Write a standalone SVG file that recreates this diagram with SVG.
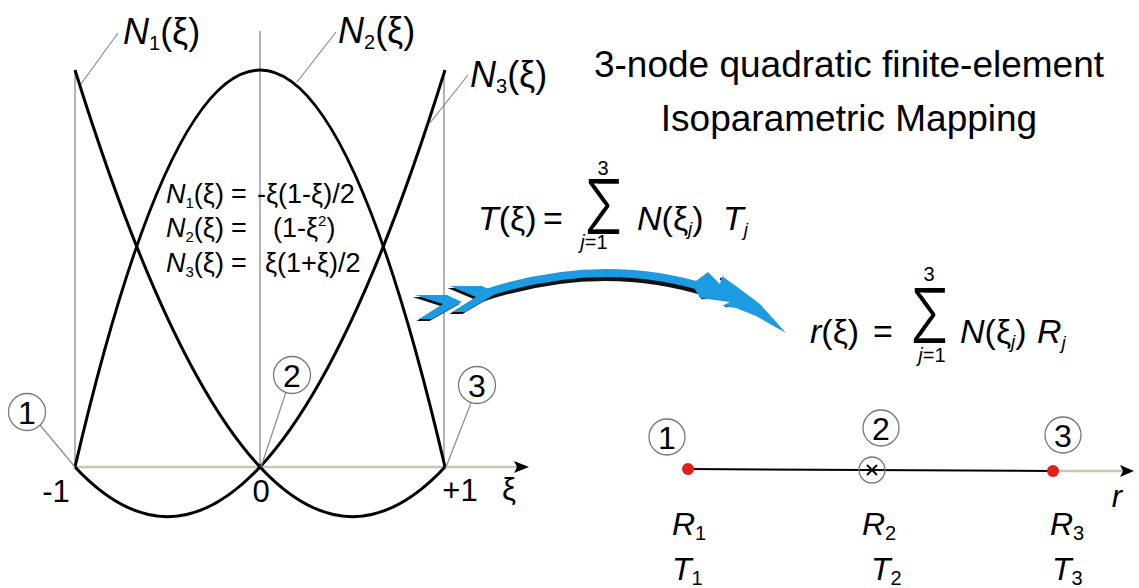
<svg xmlns="http://www.w3.org/2000/svg" width="1139" height="588" viewBox="0 0 1139 588">
<style>
text{font-family:"Liberation Sans",Arial,sans-serif;fill:#000}
.it{font-style:italic}
.grid{stroke:#9a9a9a;stroke-width:1.5;fill:none}
.axis{stroke:#c8c8b4;stroke-width:2.5;fill:none}
.curve{stroke:#000;stroke-width:3;fill:none}
.lead{stroke:#8a8a8a;stroke-width:1.2;fill:none}
.circ{stroke:#777;stroke-width:1.3;fill:#fff}
.num{font-size:32px;text-anchor:middle}
.lbl{font-size:36px}
.f{font-size:27px}
.eq{font-size:34px}
.sm{font-size:20px}
.sig{font-family:"Inter","Liberation Sans",sans-serif;font-weight:300;font-size:76px}
.rt{font-size:32px}
.dot{fill:#e0201b}
.blue{fill:#1d9be0}
.shadow{fill:#111}
.barb{stroke:#111;stroke-width:2.5;fill:none;stroke-linecap:round}
</style>
<rect width="1139" height="588" fill="#fff"/>

<g id="plot-grid">
<line class="grid" x1="75" y1="70" x2="75" y2="467"/>
<line class="grid" x1="260" y1="31" x2="260" y2="467"/>
<line class="grid" x1="444" y1="70" x2="444" y2="467"/>
</g>

<g id="xi-axis">
<line class="axis" x1="75" y1="467" x2="518" y2="467"/>
<path d="M514,461 L529,467 L514,473 L517,467 Z" fill="#000"/>
<text x="56" y="502" style="font-size:31px" text-anchor="middle">-1</text>
<text x="261" y="502" style="font-size:31px" text-anchor="middle">0</text>
<text x="460" y="501" style="font-size:31px" text-anchor="middle">+1</text>
<text x="509" y="500" style="font-size:31px" text-anchor="middle">ξ</text>
</g>

<g id="shape-functions">
<path class="curve" d="M75,70 Q260,665.5 445,467"/>
<path class="curve" d="M75,467 Q260,665.5 445,70"/>
<path class="curve" d="M75,467 Q260,-327 445,467"/>
</g>

<g id="label-N1">
<line class="lead" x1="81" y1="84" x2="118" y2="33"/>
<text class="lbl" x="123" y="44"><tspan class="it">N</tspan><tspan font-size="20" dy="6">1</tspan><tspan dy="-6">(ξ)</tspan></text>
</g>
<g id="label-N2">
<line class="lead" x1="297" y1="82" x2="336" y2="32"/>
<text class="lbl" x="338" y="43"><tspan class="it">N</tspan><tspan font-size="20" dy="6">2</tspan><tspan dy="-6">(ξ)</tspan></text>
</g>
<g id="label-N3">
<line class="lead" x1="430" y1="123" x2="468" y2="75"/>
<text class="lbl" x="470" y="87"><tspan class="it">N</tspan><tspan font-size="20" dy="6">3</tspan><tspan dy="-6">(ξ)</tspan></text>
</g>

<g id="formulas-N">
<text class="f" x="166" y="203"><tspan class="it">N</tspan><tspan font-size="15" dy="5">1</tspan><tspan dy="-5">(ξ)</tspan><tspan x="231">=</tspan><tspan x="257">-ξ(1-ξ)/2</tspan></text>
<text class="f" x="166" y="237"><tspan class="it">N</tspan><tspan font-size="15" dy="5">2</tspan><tspan dy="-5">(ξ)</tspan><tspan x="231">=</tspan><tspan x="273">(1-ξ</tspan><tspan font-size="15" dy="-11">2</tspan><tspan dy="11">)</tspan></text>
<text class="f" x="166" y="272"><tspan class="it">N</tspan><tspan font-size="15" dy="5">3</tspan><tspan dy="-5">(ξ)</tspan><tspan x="231">=</tspan><tspan x="265">ξ(1+ξ)/2</tspan></text>
</g>

<g id="node-1">
<line class="lead" x1="40" y1="425" x2="75" y2="467"/>
<circle class="circ" cx="27" cy="412" r="18.5"/>
<text class="num" x="27" y="423.5">1</text>
</g>
<g id="node-2">
<line class="lead" x1="286" y1="392" x2="261" y2="467"/>
<circle class="circ" cx="292" cy="375" r="18.5"/>
<text class="num" x="292" y="386.5">2</text>
</g>
<g id="node-3">
<line class="lead" x1="471" y1="403" x2="446" y2="467"/>
<circle class="circ" cx="477" cy="385" r="18.5"/>
<text class="num" x="477" y="396.5">3</text>
</g>

<g id="title">
<text x="849" y="77" style="font-size:37px" text-anchor="middle">3-node quadratic finite-element</text>
<text x="849" y="131" style="font-size:37px" text-anchor="middle">Isoparametric Mapping</text>
</g>

<g id="formula-T">
<text class="eq" x="478" y="230"><tspan class="it">T</tspan>(ξ)</text>
<text class="eq" x="543" y="230">=</text>
<text class="sig" x="584" y="234" textLength="39" lengthAdjust="spacingAndGlyphs">Σ</text>
<text class="sm" x="603" y="175" text-anchor="middle">3</text>
<text class="sm" x="594" y="249" text-anchor="middle"><tspan class="it">j</tspan>=1</text>
<text class="eq" x="637" y="230"><tspan class="it">N</tspan>(ξ<tspan class="it" font-size="19" dy="5">j</tspan><tspan dy="-5">)</tspan></text>
<text class="eq" x="723" y="230"><tspan class="it">T</tspan><tspan class="it" font-size="19" dy="6">j</tspan></text>
</g>

<g id="formula-r">
<text class="eq" x="810" y="343"><tspan class="it">r</tspan>(ξ)</text>
<text class="eq" x="873" y="343">=</text>
<text class="sig" x="910" y="343" textLength="39" lengthAdjust="spacingAndGlyphs">Σ</text>
<text class="sm" x="929" y="281" text-anchor="middle">3</text>
<text class="sm" x="932" y="362" text-anchor="middle"><tspan class="it">j</tspan>=1</text>
<text class="eq" x="960" y="343"><tspan class="it">N</tspan>(ξ<tspan class="it" font-size="19" dy="5">j</tspan><tspan dy="-5">)</tspan></text>
<text class="eq" x="1037" y="343"><tspan class="it">R</tspan><tspan class="it" font-size="19" dy="6">j</tspan></text>
</g>

<g id="connectors">
<g id="mapping-arrow">
<path d="M480,297 Q600,256 710,291" fill="none" stroke="#111" stroke-width="7" transform="translate(-1.5,2.5)"/>
<path d="M480,295 Q600,254 710,289" fill="none" stroke="#1d9be0" stroke-width="8"/>
<polygon class="shadow" points="415,295 447,295 462,302 432,319 419,319 443,304" transform="translate(-2.5,2)"/>
<polygon class="blue" points="415,295 447,295 462,302 432,319 419,319 443,304"/>
<polygon class="shadow" points="450,286 482,286 497,293 465,312 452,312 476,297" transform="translate(-2.5,2)"/>
<polygon class="blue" points="450,286 482,286 497,293 465,312 452,312 476,297"/>
<path class="barb" d="M707,275 L722,290 M721,279 L739,292 M702,298 L726,296 M726,306 L738,304"/>
<polygon class="blue" points="692,284 708,272 720,284 722,276 740,289 760,304 786,333 756,316 736,308 722,306 730,302 700,298"/>
</g>
<g id="r-axis">
<line x1="688" y1="469" x2="1053" y2="471" stroke="#000" stroke-width="2"/>
<line class="axis" x1="1053" y1="471" x2="1124" y2="471"/>
<path d="M1120,465 L1134,471 L1120,477 L1123,471 Z" fill="#000"/>
<text class="it" x="1117" y="507" style="font-size:31px" text-anchor="middle">r</text>
</g>
</g>

<g id="element-node-1">
<circle class="dot" cx="688" cy="469" r="6"/>
<circle class="circ" cx="667" cy="437" r="18"/>
<text class="num" x="667" y="448.5">1</text>
<text class="rt" x="672" y="535"><tspan class="it">R</tspan><tspan font-size="20" dy="5">1</tspan></text>
<text class="rt" x="672" y="580"><tspan class="it">T</tspan><tspan font-size="20" dy="5">1</tspan></text>
</g>
<g id="element-node-2">
<circle cx="872" cy="470" r="13" fill="none" stroke="#777" stroke-width="1.3"/>
<path d="M867,465 L877,475 M877,465 L867,475" stroke="#000" stroke-width="1.8"/>
<circle class="circ" cx="881" cy="428" r="18"/>
<text class="num" x="881" y="439.5">2</text>
<text class="rt" x="862" y="535"><tspan class="it">R</tspan><tspan font-size="20" dy="5">2</tspan></text>
<text class="rt" x="871" y="580"><tspan class="it">T</tspan><tspan font-size="20" dy="5">2</tspan></text>
</g>
<g id="element-node-3">
<circle class="dot" cx="1053" cy="471" r="6"/>
<circle class="circ" cx="1063" cy="435" r="18"/>
<text class="num" x="1063" y="446.5">3</text>
<text class="rt" x="1050" y="535"><tspan class="it">R</tspan><tspan font-size="20" dy="5">3</tspan></text>
<text class="rt" x="1052" y="580"><tspan class="it">T</tspan><tspan font-size="20" dy="5">3</tspan></text>
</g>
</svg>
